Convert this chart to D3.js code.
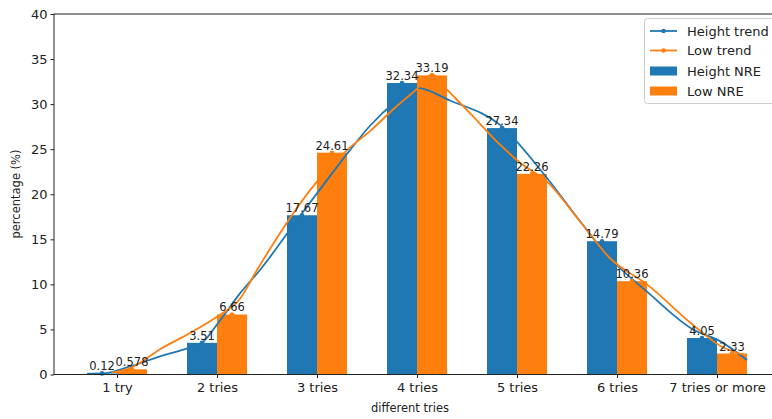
<!DOCTYPE html>
<html>
<head>
<meta charset="utf-8">
<script src="https://cdn.jsdelivr.net/npm/d3@7"></script>
<style>
  html, body { margin: 0; padding: 0; background: #fff; }
  svg { display: block; font-family: "DejaVu Sans", sans-serif; }
</style>
</head>
<body>
<svg id="chart" width="772" height="419"></svg>
<script>
const categories = ["1 try", "2 tries", "3 tries", "4 tries", "5 tries", "6 tries", "7 tries or more"];
const heightNRE = [0.12, 3.51, 17.67, 32.34, 27.34, 14.79, 4.05];
const lowNRE = [0.578, 6.66, 24.61, 33.19, 22.26, 10.36, 2.33];
const heightLabels = ["0.12", "3.51", "17.67", "32.34", "27.34", "14.79", "4.05"];
const lowLabels = ["0.578", "6.66", "24.61", "33.19", "22.26", "10.36", "2.33"];
const yTicks = [0, 5, 10, 15, 20, 25, 30, 35, 40];

// trend curves (x in category units)
const heightTrendX = [-0.30, -0.15, 0.13, 0.43, 0.73, 0.85, 1.03, 1.23, 1.43, 1.85, 2.0, 2.33, 2.53, 2.78, 3.0, 3.33, 3.83, 4.3, 4.63, 4.93, 5.3, 5.76, 6.03, 6.3];
const heightTrendY = [0.1, 0.12, 0.9, 2.0, 3.0, 3.51, 6.0, 9.0, 11.6, 17.9, 20.1, 24.9, 27.6, 30.2, 31.8, 30.4, 27.7, 21.8, 17.0, 12.9, 9.2, 5.0, 3.7, 1.6];
const lowTrendX = [-0.05, 0.15, 0.43, 0.73, 1.0, 1.23, 1.4, 2.0, 2.3, 2.53, 2.78, 3.0, 3.15, 3.3, 3.53, 3.83, 4.03, 4.3, 4.63, 4.93, 5.3, 5.76, 6.03, 6.3];
const lowTrendY = [0.2, 0.8, 2.8, 4.6, 6.4, 8.4, 11.6, 21.4, 24.9, 27.0, 29.6, 31.7, 33.3, 31.6, 29.0, 25.5, 23.5, 21.4, 17.0, 12.9, 10.0, 5.5, 3.2, 2.1];

(function () {
const blue = "#1f77b4", orange = "#ff7f0e";
const svg = d3.select("#chart");
const mLeft = 54, mRight = 780, mTop = 14, mBottom = 374.5;
const barW = 0.3;

const x = d3.scaleLinear().domain([-0.63, 6.63]).range([mLeft, mRight]);
const y = d3.scaleLinear().domain([0, 40]).range([mBottom, mTop]);

const plot = svg.append("g");
const idx = d3.range(categories.length);

// bars
plot.selectAll("rect.h").data(idx).join("rect").attr("class", "h")
  .attr("x", i => x(i - barW)).attr("width", i => x(i) - x(i - barW))
  .attr("y", i => y(heightNRE[i])).attr("height", i => y(0) - y(heightNRE[i]))
  .attr("fill", blue);
plot.selectAll("rect.l").data(idx).join("rect").attr("class", "l")
  .attr("x", i => x(i)).attr("width", i => x(i + barW) - x(i))
  .attr("y", i => y(lowNRE[i])).attr("height", i => y(0) - y(lowNRE[i]))
  .attr("fill", orange);

// trend lines
const line = d3.line().x(d => x(d[0])).y(d => y(d[1])).curve(d3.curveMonotoneX);
plot.append("path").datum(heightTrendX.map((v, i) => [v, heightTrendY[i]]))
  .attr("d", line).attr("fill", "none").attr("stroke", blue).attr("stroke-width", 1.8);
plot.append("path").datum(lowTrendX.map((v, i) => [v, lowTrendY[i]]))
  .attr("d", line).attr("fill", "none").attr("stroke", orange).attr("stroke-width", 1.8);

// markers at data points
plot.selectAll("circle.h").data(idx).join("circle").attr("class", "h")
  .attr("cx", i => x(i - barW / 2)).attr("cy", i => y(heightNRE[i])).attr("r", 2.3).attr("fill", blue);
plot.selectAll("circle.l").data(idx).join("circle").attr("class", "l")
  .attr("cx", i => x(i + barW / 2)).attr("cy", i => y(lowNRE[i])).attr("r", 2.3).attr("fill", orange);

// value labels
plot.selectAll("text.h").data(idx).join("text").attr("class", "h")
  .attr("x", i => x(i - barW / 2)).attr("y", i => y(heightNRE[i]) - 3)
  .attr("text-anchor", "middle").attr("font-size", 11.5).attr("fill", "#222")
  .text(i => heightLabels[i]);
plot.selectAll("text.l").data(idx).join("text").attr("class", "l")
  .attr("x", i => x(i + barW / 2)).attr("y", i => y(lowNRE[i]) - 3)
  .attr("text-anchor", "middle").attr("font-size", 11.5).attr("fill", "#222")
  .text(i => lowLabels[i]);

// frame
svg.append("rect").attr("x", mLeft).attr("y", mTop).attr("width", mRight - mLeft).attr("height", mBottom - mTop)
  .attr("fill", "none").attr("stroke", "#222").attr("stroke-width", 1);

// axes
const xAxis = d3.axisBottom(x).tickValues(idx).tickFormat(i => categories[i]).tickSize(3.5).tickSizeOuter(0);
const gx = svg.append("g").attr("transform", `translate(0,${mBottom})`).call(xAxis);
gx.select(".domain").remove();
gx.selectAll("line").attr("stroke", "#222");
gx.selectAll("text").attr("font-size", 13).attr("fill", "#222").attr("dy", "0.88em").attr("font-family", "DejaVu Sans");

const yAxis = d3.axisLeft(y).tickValues(yTicks).tickSize(3.5).tickSizeOuter(0);
const gy = svg.append("g").attr("transform", `translate(${mLeft},0)`).call(yAxis);
gy.select(".domain").remove();
gy.selectAll("line").attr("stroke", "#222");
gy.selectAll("text").attr("font-size", 13).attr("fill", "#222").attr("font-family", "DejaVu Sans");

// axis titles
svg.append("text").attr("x", 410).attr("y", 411.5).attr("text-anchor", "middle")
  .attr("font-size", 11.5).attr("fill", "#222").text("different tries");
svg.append("text").attr("transform", "translate(20,194) rotate(-90)").attr("text-anchor", "middle")
  .attr("font-size", 11.5).attr("fill", "#222").text("percentage (%)");

// legend
const lg = svg.append("g");
lg.append("rect").attr("x", 644.5).attr("y", 18.5).attr("width", 140).attr("height", 85).attr("rx", 3)
  .attr("fill", "white").attr("fill-opacity", 0.8).attr("stroke", "#ccc");
const items = [
  { label: "Height trend", color: blue, type: "line" },
  { label: "Low trend", color: orange, type: "line" },
  { label: "Height NRE", color: blue, type: "rect" },
  { label: "Low NRE", color: orange, type: "rect" }
];
const rowY = [31, 50.5, 71, 91];
items.forEach((it, k) => {
  const cy = rowY[k];
  if (it.type === "line") {
    lg.append("line").attr("x1", 650).attr("x2", 677).attr("y1", cy).attr("y2", cy)
      .attr("stroke", it.color).attr("stroke-width", 1.8);
    lg.append("circle").attr("cx", 663.5).attr("cy", cy).attr("r", 2.3).attr("fill", it.color);
  } else {
    lg.append("rect").attr("x", 650).attr("y", cy - 4.5).attr("width", 27).attr("height", 9).attr("fill", it.color);
  }
  lg.append("text").attr("x", 687).attr("y", cy + 4.5).attr("font-size", 13).attr("fill", "#222").text(it.label);
});
})();
</script>
</body>
</html>
